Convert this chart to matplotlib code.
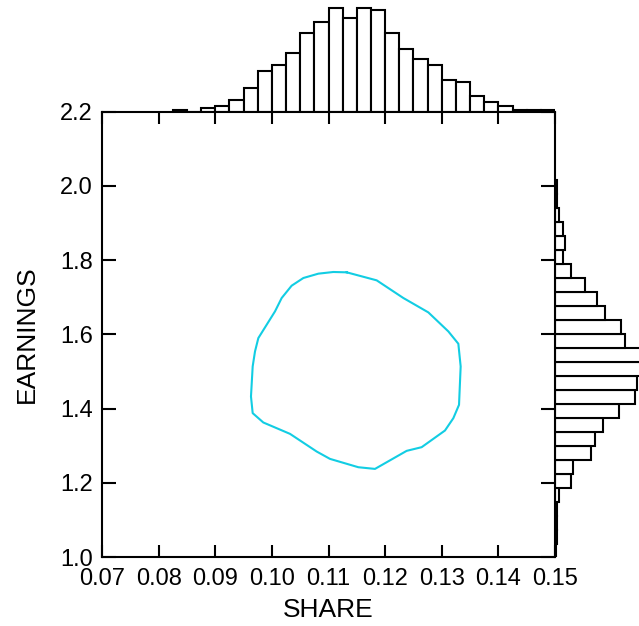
import numpy as np
import matplotlib
matplotlib.use("Agg")
import matplotlib.pyplot as plt

plt.rcParams['font.family'] = ['Liberation Sans', 'DejaVu Sans']

# ---- data ----
share_edges = [0.0825 + 0.0025 * k for k in range(28)]
share_counts = [4, 0, 10, 16, 34, 70, 118, 136, 172, 232, 262, 304, 274, 304,
                298, 232, 184, 154, 136, 94, 88, 46, 28, 16, 5, 5, 5]

earn_edges = [1.6 + 0.0377 * k for k in range(-16, 12)]
earn_counts = [3, 5, 5, 7, 12, 49, 54, 109, 119, 143, 192, 241, 246, 285, 290,
               211, 198, 150, 126, 90, 48, 23, 30, 25, 12, 7, 5]

contour_share = [0.11321, 0.11851, 0.12322, 0.12763, 0.13116, 0.13293, 0.13334,
                 0.13305, 0.13205, 0.13057, 0.12645, 0.12380, 0.11821, 0.11527,
                 0.11026, 0.10791, 0.10320, 0.09849, 0.09661, 0.09631, 0.09661,
                 0.09702, 0.09761, 0.10055, 0.10173, 0.10349, 0.10556, 0.10821,
                 0.11085, 0.11321]
contour_earn = [1.7668, 1.7452, 1.6976, 1.6589, 1.6077, 1.5744, 1.5133,
                1.4099, 1.3740, 1.3407, 1.2958, 1.2859, 1.2373, 1.2418,
                1.2643, 1.2841, 1.3317, 1.3623, 1.3875, 1.4324, 1.5133,
                1.5537, 1.5897, 1.6615, 1.6976, 1.7308, 1.7515, 1.7632,
                1.7677, 1.7668]

x_ticks = [0.07, 0.08, 0.09, 0.10, 0.11, 0.12, 0.13, 0.14, 0.15]
x_labels = ["0.07", "0.08", "0.09", "0.10", "0.11", "0.12", "0.13", "0.14", "0.15"]
y_ticks = [1.0, 1.2, 1.4, 1.6, 1.8, 2.0, 2.2]
y_labels = ["1.0", "1.2", "1.4", "1.6", "1.8", "2.0", "2.2"]

W, H = 639, 626
fig = plt.figure(figsize=(W / 100, H / 100), dpi=100)

L, R, T, B = 102, 555, 111.5, 557
ax = fig.add_axes([L / W, (H - B) / H, (R - L) / W, (B - T) / H])
ax_top = fig.add_axes([L / W, (H - T) / H, (R - L) / W, T / H])
ax_right = fig.add_axes([R / W, (H - B) / H, (W - R) / W, (B - T) / H])

lw = 1.5
# main
ax.plot(contour_share, contour_earn, color='#12CDE3', lw=1.5)
ax.set_xlim(0.07, 0.15)
ax.set_ylim(1.0, 2.2)
ax.set_xticks(x_ticks)
ax.set_xticklabels(x_labels)
ax.set_yticks(y_ticks)
ax.set_yticklabels(y_labels)
for s in ax.spines.values():
    s.set_linewidth(lw)
ax.tick_params(axis='x', direction='in', length=8.5, width=lw, top=True,
               labelsize=17, pad=8)
ax.tick_params(axis='y', direction='in', length=10, width=lw, right=True,
               labelsize=17, pad=6.5)
ax.set_xlabel("SHARE", fontsize=19, labelpad=6)
ax.set_ylabel("EARNINGS", fontsize=19, labelpad=15)

# top histogram
for i in range(len(share_counts)):
    ax_top.bar(share_edges[i], share_counts[i], width=0.0025, align='edge',
               facecolor='white', edgecolor='black', lw=lw)
ax_top.set_xlim(0.07, 0.15)
ax_top.set_ylim(0, 328)
ax_top.axis('off')

# right histogram
for i in range(len(earn_counts)):
    ax_right.barh(earn_edges[i], earn_counts[i], height=0.0377, align='edge',
                  facecolor='white', edgecolor='black', lw=lw)
ax_right.set_ylim(1.0, 2.2)
ax_right.set_xlim(0, 252)
ax_right.axis('off')

ax.set_zorder(3)
ax.patch.set_alpha(0)

fig.savefig("out.png", dpi=100)
